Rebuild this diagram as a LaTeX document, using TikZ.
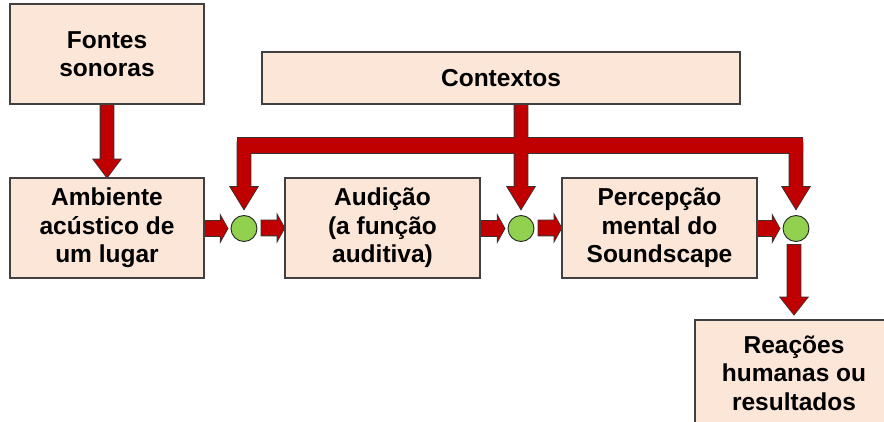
\documentclass[tikz,border=0pt]{standalone}
\usepackage{fontspec}
\setmainfont{Liberation Sans}
\usetikzlibrary{calc,backgrounds}

\definecolor{boxfill}{HTML}{FCE6D8}
\definecolor{arrowred}{HTML}{C00000}
\definecolor{dotgreen}{HTML}{92D050}

\tikzset{
    block/.style = {draw = black!75, line width = 1.2pt, fill = boxfill, align = center,
        inner sep = 0pt, font = \fontsize{24.5}{28.5}\selectfont\bfseries},
    dot/.style = {circle, draw = black!85, line width = 0.9pt, fill = dotgreen,
        minimum size = 26pt, inner sep = 0pt},
    edge/.style = {draw = black!80, line width = 1.6pt, line join = miter},
    body/.style = {fill = arrowred}
}

% fat arrows, drawn once per \lay (edge, then body)
\newcommand\downfat[3]{%
    \path[\lay] let \p1 = (#1), \p2 = (#2) in
        (\x2-6.5pt,\y1+3pt) -- (\x2-6.5pt,\y2+#3) -- (\x2-13.5pt,\y2+#3) -- (\x2,\y2)
        -- (\x2+13.5pt,\y2+#3) -- (\x2+6.5pt,\y2+#3) -- (\x2+6.5pt,\y1+3pt) -- cycle;}
\newcommand\rightfat[2]{%
    \path[\lay] let \p1 = (#1), \p2 = (#2) in
        (\x1-3pt,\y2+7.5pt) -- (\x2-7pt,\y2+7.5pt) -- (\x2-7pt,\y2+12.5pt) -- (\x2,\y2)
        -- (\x2-7pt,\y2-12.5pt) -- (\x2-7pt,\y2-7.5pt) -- (\x1-3pt,\y2-7.5pt) -- cycle;}

\begin{document}
\begin{tikzpicture}[x = 1pt, y = 1pt]
    \useasboundingbox (0,0) rectangle (884,421);

    \node[block, minimum width = 194pt, minimum height = 100pt] (fontes) at (107,367) {Fontes\\sonoras};
    \node[block, minimum width = 478pt, minimum height = 52pt] (ctx) at (501,343) {Contextos};
    \node[block, minimum width = 194pt, minimum height = 100pt] (amb) at (107,193) {Ambiente\\acústico de\\um lugar};
    \node[block, minimum width = 195pt, minimum height = 100pt] (aud) at (382.5,193) {Audição\\(a função\\auditiva)};
    \node[block, minimum width = 195pt, minimum height = 100pt] (perc) at (659.5,193) {Percepção\\mental do\\Soundscape};
    \node[block, minimum width = 198pt, minimum height = 106pt] (reac) at (794,48) {Reações\\humanas ou\\resultados};

    \node[dot] (d1) at (244,192.5) {};
    \node[dot] (d2) at (521,192.5) {};
    \node[dot] (d3) at (796,192.5) {};
    \coordinate (bar) at (0,275.5);

    \begin{scope}[on background layer]
        \foreach \lay in {edge,body} {
            \downfat{fontes.south}{amb.north}{18pt}
            \path[\lay] ($(d1 |- bar)+(-6.5pt,7.5pt)$) rectangle ($(d3 |- bar)+(6.5pt,-7.5pt)$);
            \downfat{ctx.south}{$(d2.north)+(0,6pt)$}{22pt}
            \downfat{d1 |- bar}{$(d1.north)+(0,6pt)$}{22pt}
            \downfat{d3 |- bar}{$(d3.north)+(0,6pt)$}{22pt}
            \downfat{$(d3.south)+(0,-6pt)$}{$(reac.north)+(0,5pt)$}{17pt}
            \rightfat{amb.east}{$(d1.west)+(-3pt,0)$}
            \rightfat{$(d1.east)+(7pt,0)$}{aud.west}
            \rightfat{aud.east}{$(d2.west)+(-3pt,0)$}
            \rightfat{$(d2.east)+(7pt,0)$}{perc.west}
            \rightfat{perc.east}{$(d3.west)+(-3pt,0)$}
        }
    \end{scope}
\end{tikzpicture}
\end{document}
